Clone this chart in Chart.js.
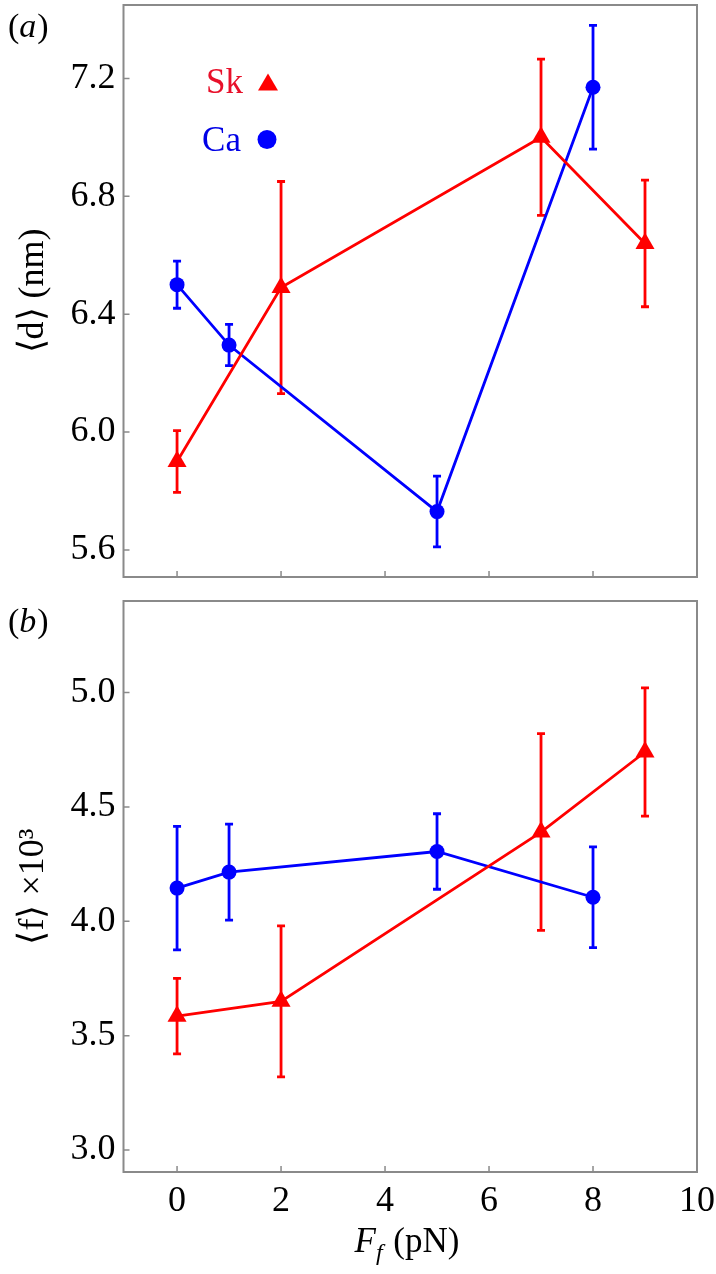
<!DOCTYPE html>
<html>
<head>
<meta charset="utf-8">
<script src="https://cdn.jsdelivr.net/npm/chart.js@4.4.1/dist/chart.umd.min.js"></script>
<style>
  body { margin: 0; background: #fff; overflow: hidden; }
  #wrapA { position: absolute; left: 0; top: -6.5px; width: 716px; height: 596.5px; }
  #wrapB { position: absolute; left: 0; top: 590px; width: 716px; height: 684px; }
</style>
</head>
<body>
<div id="wrapA"><canvas id="panelA"></canvas></div>
<div id="wrapB"><canvas id="panelB"></canvas></div>
<script>
// data
var xTicks = [0, 2, 4, 6, 8, 10];
var dTicks = [5.6, 6.0, 6.4, 6.8, 7.2];
var fTicks = [3.0, 3.5, 4.0, 4.5, 5.0];

var skX = [0, 2, 7, 9];
var caX = [0, 1, 5, 8];

// panel (a): <d> (nm)
var skD = [5.90, 6.49, 7.00, 6.64];
var skDErr = [0.105, 0.36, 0.265, 0.215];
var caD = [6.50, 6.295, 5.73, 7.17];
var caDErr = [0.08, 0.07, 0.12, 0.21];

// panel (b): <f> x10^3
var skF = [3.585, 3.65, 4.39, 4.74];
var skFErr = [0.165, 0.33, 0.43, 0.28];
var caF = [4.145, 4.215, 4.305, 4.105];
var caFErr = [0.27, 0.21, 0.165, 0.22];

var RED = '#ff0000';
var BLUE = '#0000ff';
var AXIS = '#8a8a8a';
var SERIF = 'Liberation Serif';

function pts(xs, ys) {
    return xs.map(function (x, i) { return {x: x, y: ys[i]}; });
}

// error bars, frame, inward ticks and the extra labels
var decorPlugin = {
    id: 'decor',
    beforeDatasetsDraw: function (chart) {
        var ctx = chart.ctx;
        var ys = chart.scales.y;
        chart.data.datasets.forEach(function (ds, di) {
            var meta = chart.getDatasetMeta(di);
            ctx.save();
            ctx.strokeStyle = ds.borderColor;
            ctx.lineWidth = 2.8;
            meta.data.forEach(function (pt, i) {
                var v = ds.data[i].y, e = ds.err[i];
                var top = ys.getPixelForValue(v + e);
                var bot = ys.getPixelForValue(v - e);
                ctx.beginPath();
                ctx.moveTo(pt.x, top); ctx.lineTo(pt.x, bot);
                ctx.moveTo(pt.x - 4, top); ctx.lineTo(pt.x + 4, top);
                ctx.moveTo(pt.x - 4, bot); ctx.lineTo(pt.x + 4, bot);
                ctx.stroke();
            });
            ctx.restore();
        });
    },
    afterDraw: function (chart) {
        var ctx = chart.ctx, a = chart.chartArea;
        var o = chart.options.plugins.decor;
        var dy = o.dy;
        ctx.save();
        ctx.strokeStyle = AXIS;
        ctx.lineWidth = 2;
        ctx.strokeRect(a.left, a.top, a.right - a.left, a.bottom - a.top);
        ctx.lineWidth = 1.5;
        ctx.beginPath();
        chart.scales.y.ticks.forEach(function (t) {
            var p = chart.scales.y.getPixelForValue(t.value);
            ctx.moveTo(a.left, p); ctx.lineTo(a.left + 6, p);
        });
        chart.scales.x.ticks.forEach(function (t) {
            var p = chart.scales.x.getPixelForValue(t.value);
            ctx.moveTo(p, a.bottom); ctx.lineTo(p, a.bottom - 6);
        });
        ctx.stroke();

        ctx.fillStyle = '#000';
        ctx.textBaseline = 'alphabetic';
        ctx.textAlign = 'left';
        ctx.font = '34px ' + SERIF;
        ctx.fillText('(', 8, o.labelY + dy);
        var w = ctx.measureText('(').width;
        ctx.font = 'italic 34px ' + SERIF;
        ctx.fillText(o.label, 8 + w, o.labelY + dy);
        var w2 = ctx.measureText(o.label).width;
        ctx.font = '34px ' + SERIF;
        ctx.fillText(')', 8 + w + w2 + 1, o.labelY + dy);

        if (o.legend) {
            ctx.font = '35px ' + SERIF;
            ctx.textAlign = 'right';
            ctx.fillStyle = '#e8102a';
            ctx.fillText('Sk', 243, 92 + dy);
            ctx.fillStyle = '#0000e6';
            ctx.fillText('Ca', 241, 150 + dy);
            ctx.fillStyle = RED;
            ctx.beginPath();
            ctx.moveTo(268, 73 + dy); ctx.lineTo(278, 90 + dy); ctx.lineTo(258, 90 + dy);
            ctx.closePath(); ctx.fill();
            ctx.fillStyle = BLUE;
            ctx.beginPath();
            ctx.arc(267, 139 + dy, 9.5, 0, Math.PI * 2);
            ctx.fill();
        }
        if (o.xTitle) {
            var cx = 407, by = 1252 - 590;
            ctx.textAlign = 'left';
            ctx.font = 'italic 35px ' + SERIF;
            var fW = ctx.measureText('F').width;
            ctx.font = 'italic 24px ' + SERIF;
            var sW = ctx.measureText('f').width;
            ctx.font = '35px ' + SERIF;
            var rW = ctx.measureText(' (pN)').width;
            var x0 = cx - (fW + sW + 2 + rW) / 2;
            ctx.font = 'italic 35px ' + SERIF;
            ctx.fillText('F', x0, by);
            ctx.font = 'italic 24px ' + SERIF;
            ctx.fillText('f', x0 + fW, by + 8);
            ctx.font = '35px ' + SERIF;
            ctx.fillText(' (pN)', x0 + fW + sW + 2, by);
        }
        ctx.restore();
    }
};

function makeChart(id, cfg) {
    var showX = cfg.showX;
    return new Chart(document.getElementById(id), {
        type: 'line',
        data: {
            datasets: [{
                label: 'Sk',
                data: pts(skX, cfg.sk),
                err: cfg.skErr,
                borderColor: RED,
                backgroundColor: RED,
                borderWidth: 2.8,
                pointStyle: 'triangle',
                pointRadius: 11,
                pointBorderWidth: 0,
                tension: 0
            }, {
                label: 'Ca',
                data: pts(caX, cfg.ca),
                err: cfg.caErr,
                borderColor: BLUE,
                backgroundColor: BLUE,
                borderWidth: 2.8,
                pointStyle: 'circle',
                pointRadius: 7.5,
                pointBorderWidth: 0,
                tension: 0
            }]
        },
        options: {
            responsive: true,
            maintainAspectRatio: false,
            animation: false,
            layout: { padding: { top: cfg.padTop, right: 19, left: 0, bottom: 0 } },
            plugins: {
                legend: { display: false },
                tooltip: { enabled: false },
                decor: { label: cfg.label, labelY: cfg.labelY, legend: cfg.legend, xTitle: showX, dy: cfg.dy }
            },
            scales: {
                x: {
                    type: 'linear',
                    min: -1.03,
                    max: 10,
                    grid: { display: false, drawTicks: false },
                    border: { display: false },
                    afterBuildTicks: function (s) { s.ticks = xTicks.map(function (v) { return {value: v}; }); },
                    afterFit: function (s) {
                        s.height = cfg.xHeight;
                        s.paddingLeft = 0; s.paddingRight = 0;
                    },
                    ticks: {
                        display: showX,
                        padding: 8,
                        color: '#000',
                        font: { family: SERIF, size: 36 },
                        maxRotation: 0
                    }
                },
                y: {
                    min: cfg.yMin,
                    max: cfg.yMax,
                    grid: { display: false, drawTicks: false },
                    border: { display: false },
                    afterBuildTicks: function (s) { s.ticks = cfg.yTicks.map(function (v) { return {value: v}; }); },
                    afterFit: function (s) {
                        s.width = 123.5;
                        s.paddingTop = 0; s.paddingBottom = 0;
                    },
                    ticks: {
                        padding: 8,
                        color: '#000',
                        font: { family: SERIF, size: 36 },
                        callback: function (v) { return Number(v).toFixed(1); }
                    },
                    title: {
                        display: true,
                        text: cfg.yTitle,
                        color: '#000',
                        font: { family: SERIF, size: 36 },
                        padding: { top: 12, bottom: 0 }
                    }
                }
            }
        },
        plugins: [decorPlugin]
    });
}

makeChart('panelA', {
    sk: skD, skErr: skDErr, ca: caD, caErr: caDErr,
    yMin: 5.508, yMax: 7.449, yTicks: dTicks,
    yTitle: '\u27E8d\u27E9 (nm)',
    padTop: 10, xHeight: 13.5, showX: false,
    label: 'a', labelY: 36, legend: true, dy: 6.5
});

makeChart('panelB', {
    sk: skF, skErr: skFErr, ca: caF, caErr: caFErr,
    yMin: 2.904, yMax: 5.40, yTicks: fTicks,
    yTitle: '\u27E8f\u27E9 \u00D710\u00B3',
    padTop: 10, xHeight: 102, showX: true,
    label: 'b', labelY: 42, legend: false, dy: 0
});
</script>
</body>
</html>
